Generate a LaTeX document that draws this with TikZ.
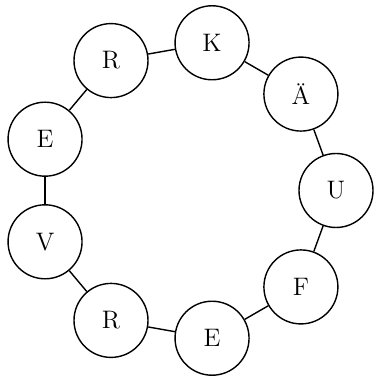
\documentclass[tikz,border=0pt]{standalone}
\usepackage{tikz}

\begin{document}
\begin{tikzpicture}[
    every node/.style={font=\Large},
    letter/.style={draw, circle, thick, minimum size=1.48cm, inner sep=0pt},
    link/.style={thick}
]
\useasboundingbox (-3.72,-3.85) rectangle (3.80,3.81);
\node[letter] (u) at (0:3cm) {U};
\node[letter] (ae) at (40:3cm) {Ä};
\node[letter] (k) at (80:3cm) {K};
\node[letter] (r1) at (120:3cm) {R};
\node[letter] (e1) at (160:3cm) {E};
\node[letter] (v) at (200:3cm) {V};
\node[letter] (r2) at (240:3cm) {R};
\node[letter] (e2) at (280:3cm) {E};
\node[letter] (f) at (320:3cm) {F};
\draw[link] (u) -- (ae);
\draw[link] (ae) -- (k);
\draw[link] (k) -- (r1);
\draw[link] (r1) -- (e1);
\draw[link] (e1) -- (v);
\draw[link] (v) -- (r2);
\draw[link] (r2) -- (e2);
\draw[link] (e2) -- (f);
\draw[link] (f) -- (u);
\end{tikzpicture}
\end{document}
